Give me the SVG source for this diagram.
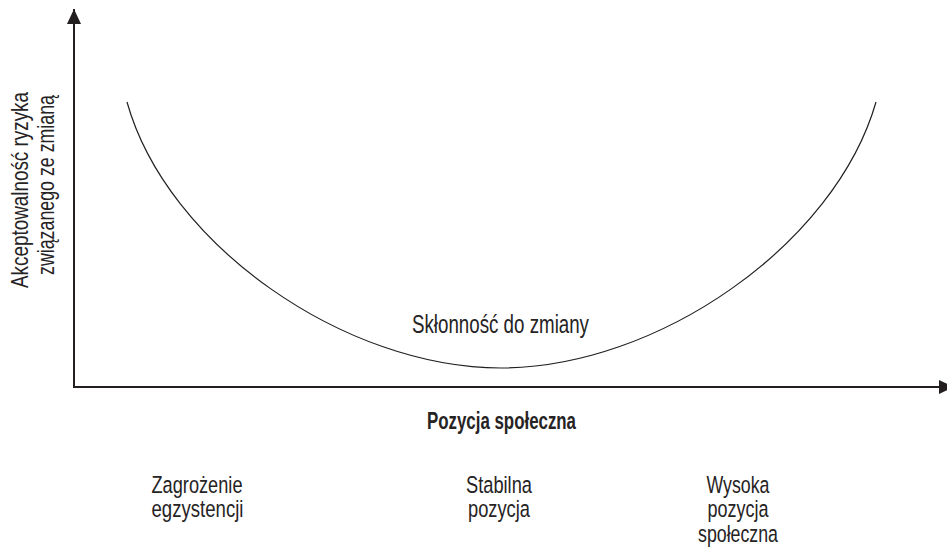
<svg xmlns="http://www.w3.org/2000/svg" width="947" height="547" viewBox="0 0 947 547">
  <style>
    .t { font-family: "Liberation Sans", Arial, sans-serif; fill: #262324; text-anchor: middle; }
    .lbl { font-size: 24.5px; }
    .ax { font-size: 24px; }
    .axis { stroke: #231f20; stroke-width: 2; fill: none; }
    .curve { stroke: #231f20; stroke-width: 1.2; fill: none; }
  </style>
  <defs>
    <marker id="arrow" markerUnits="userSpaceOnUse" markerWidth="15" markerHeight="14" refX="15" refY="7" orient="auto">
      <path d="M0,0 L15,7 L0,14 Z" fill="#231f20"/>
    </marker>
  </defs>

  <g id="connectors">
    <line id="y-axis" class="axis" x1="74" y1="388" x2="74" y2="9" marker-end="url(#arrow)"/>
    <line id="x-axis" class="axis" x1="73" y1="387" x2="954" y2="387" marker-end="url(#arrow)"/>
    <path id="curve" class="curve" d="M127,102 C167,245 345,368 501,368 C657,368 835,245 876,102"/>
  </g>

  <g id="y-label">
    <text class="t ax" transform="translate(28,190) rotate(-90)" textLength="196" lengthAdjust="spacingAndGlyphs">Akceptowalność ryzyka</text>
    <text class="t ax" transform="translate(54,185) rotate(-90)" textLength="180" lengthAdjust="spacingAndGlyphs">związanego ze zmianą</text>
  </g>

  <g id="curve-label">
    <text class="t" x="500.5" y="333" font-size="25.5" textLength="177" lengthAdjust="spacingAndGlyphs">Skłonność do zmiany</text>
  </g>

  <g id="x-label">
    <text class="t" x="501.5" y="429" font-size="23" font-weight="bold" textLength="149" lengthAdjust="spacingAndGlyphs">Pozycja społeczna</text>
  </g>

  <g id="cat-left">
    <text class="t lbl" x="197" y="492.5" textLength="91" lengthAdjust="spacingAndGlyphs">Zagrożenie</text>
    <text class="t lbl" x="197.5" y="517" textLength="92" lengthAdjust="spacingAndGlyphs">egzystencji</text>
  </g>

  <g id="cat-middle">
    <text class="t lbl" x="499" y="492.5" textLength="66" lengthAdjust="spacingAndGlyphs">Stabilna</text>
    <text class="t lbl" x="499" y="517" textLength="62" lengthAdjust="spacingAndGlyphs">pozycja</text>
  </g>

  <g id="cat-right">
    <text class="t lbl" x="738" y="492.5" textLength="63" lengthAdjust="spacingAndGlyphs">Wysoka</text>
    <text class="t lbl" x="738" y="517" textLength="61" lengthAdjust="spacingAndGlyphs">pozycja</text>
    <text class="t lbl" x="738" y="541.5" textLength="80" lengthAdjust="spacingAndGlyphs">społeczna</text>
  </g>
</svg>
